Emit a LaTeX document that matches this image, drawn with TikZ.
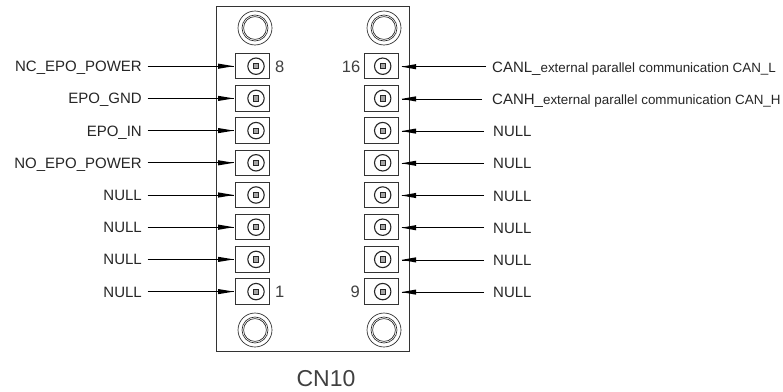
\documentclass[tikz,border=0pt]{standalone}
\usepackage{fontspec}
\setmainfont{Liberation Sans}
\newcommand{\bigtxt}{\fontsize{15}{17}\selectfont}
\newcommand{\smalltxt}{\fontsize{13.4}{16}\selectfont}
\begin{document}
\begin{tikzpicture}[x=1pt,y=-1pt,
  part/.style={draw=black!80,line width=0.9pt},
  thin part/.style={draw=black!85,line width=0.65pt},
  lbl/.style={font=\bigtxt,text=black!85,inner sep=0pt},
  pinnum/.style={font=\fontsize{16.5}{18}\selectfont,text=black!75,inner sep=0pt},
  pad/.style={draw=black!80,line width=0.9pt,minimum width=34pt,minimum height=25.4pt,inner sep=0pt,outer sep=0pt},
  conn/.style={draw=black,line width=0.8pt},
  head/.style={fill=black,draw=none}]
\useasboundingbox (0,0) rectangle (783,391);
\fill[white] (0,0) rectangle (783,391);
\draw[part] (216.5,6) rectangle (409,351);
\foreach \x/\y in {255/28,384/28,255/330,384/330}{
  \draw[thin part] (\x,\y) circle (17);
  \draw[thin part] (\x,\y) circle (13);
  \draw[thin part] (\x,\y) circle (11.4);
}
\foreach \n/\y/\e in {1/66.2/486,2/98.4/482,3/130.6/484,4/162.8/484,5/195/484,6/227.2/484,7/259.4/484,8/291.6/484}{
  \node[pad] (L\n) at (252.5,\y) {};
  \node[pad] (R\n) at (381.5,\y) {};
  \coordinate (LS\n) at (147.5,\y);
  \coordinate (RS\n) at (\e,\y+0.5);
  \draw[conn] (LS\n) -- ([xshift=-2pt]L\n.west);
  \draw[conn] (RS\n) -- ([xshift=3pt,yshift=-0.5pt]R\n.east);
  \fill[head] ([xshift=-1.8pt]L\n.west) -- ++(-15.5,-2.6) -- ++(0,5.2) -- cycle;
  \fill[head] ([xshift=3pt,yshift=-0.5pt]R\n.east) -- ++(14.5,-2.6) -- ++(0,5.2) -- cycle;
  \foreach \cx in {256,382.7}{
    \draw[line width=1.1pt,draw=black!85] (\cx,\y) circle (8.2);
    \draw[line width=1pt,draw=black!85,fill=black!35] (\cx-2.6,\y-2.6) rectangle (\cx+2.6,\y+2.6);
  }
}
\node[lbl,anchor=base east] (t1) at (142,71.7) {NC\_EPO\_POWER};
\node[lbl,anchor=base east] (t2) at (142,103.5) {EPO\_GND};
\node[lbl,anchor=base east] (t3) at (142,136.3) {EPO\_IN};
\node[lbl,anchor=base east] (t4) at (142,168.2) {NO\_EPO\_POWER};
\node[lbl,anchor=base east] (t5) at (142,200.4) {NULL};
\node[lbl,anchor=base east] (t6) at (142,232.6) {NULL};
\node[lbl,anchor=base east] (t7) at (142,264.8) {NULL};
\node[lbl,anchor=base east] (t8) at (142,297) {NULL};
\node[lbl,anchor=base west] (r1) at (492,72) {CANL\_{\smalltxt external parallel communication CAN\_L}};
\node[lbl,anchor=base west] (r2) at (492,104.5) {CANH\_{\smalltxt external parallel communication CAN\_H}};
\foreach \n/\y in {3/136.7,4/168.9,5/201.1,6/233.3,7/265.5,8/297.7}
  \node[lbl,anchor=base west] (r\n) at (493,\y) {NULL};
\node[pinnum,anchor=base west] (p8) at (275,72.6) {8};
\node[pinnum,anchor=base west] (p1) at (275,297.6) {1};
\node[pinnum,anchor=base east] (p16) at (360.5,72.6) {16};
\node[pinnum,anchor=base east] (p9) at (360,297.6) {9};
\node[font=\fontsize{23}{25}\selectfont,text=black!75,inner sep=0pt,anchor=base] (cn) at (326,386.5) {CN10};
\end{tikzpicture}
\end{document}
